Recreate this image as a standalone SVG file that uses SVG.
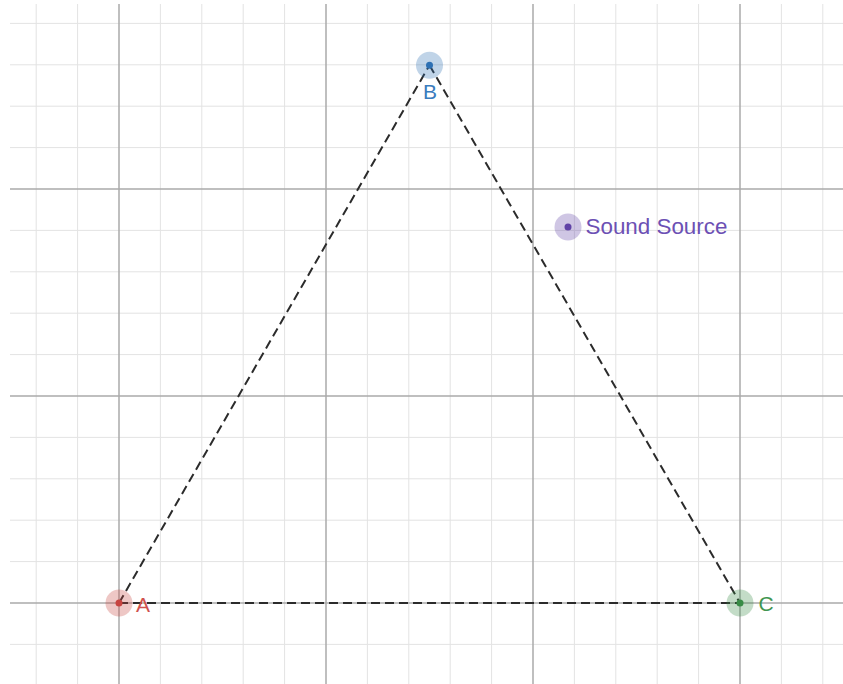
<svg xmlns="http://www.w3.org/2000/svg" width="843" height="684" viewBox="0 0 843 684">
<style>
.minor{stroke:#e3e3e3;stroke-width:1;fill:none}
.major{stroke:#ababab;stroke-width:1.5;fill:none}
.edge{stroke:#2b2b2b;stroke-width:2;stroke-dasharray:9 5;fill:none}
.lbl{font-family:"Liberation Sans",Arial,sans-serif;font-size:21px}
</style>
<rect width="843" height="684" fill="#ffffff"/>
<g id="grid">
<path class="minor" d="M36.2 4V684M77.6 4V684M160.4 4V684M201.8 4V684M243.2 4V684M284.6 4V684M367.4 4V684M408.8 4V684M450.2 4V684M491.6 4V684M574.4 4V684M615.8 4V684M657.2 4V684M698.6 4V684M781.4 4V684M822.8 4V684"/>
<path class="minor" d="M10 23.4H843M10 64.8H843M10 106.2H843M10 147.6H843M10 230.4H843M10 271.8H843M10 313.2H843M10 354.6H843M10 437.4H843M10 478.8H843M10 520.2H843M10 561.6H843M10 644.4H843"/>
<path class="major" d="M119 4V684M326 4V684M533 4V684M740 4V684M10 189H843M10 396H843M10 603H843"/>
</g>
<g id="connectors">
<line class="edge" x1="119" y1="603" x2="429.5" y2="65.2"/>
<line class="edge" x1="429.5" y1="65.2" x2="740" y2="603"/>
<line class="edge" x1="119" y1="603" x2="740" y2="603"/>
</g>
<g id="A">
<circle cx="119" cy="603" r="13.5" fill="#c74440" fill-opacity="0.3"/>
<circle cx="119" cy="603" r="3.5" fill="#c74440"/>
<text class="lbl" x="136" y="611.5" fill="#d0524e">A</text>
</g>
<g id="B">
<circle cx="429.5" cy="65.2" r="13.5" fill="#2d70b3" fill-opacity="0.3"/>
<circle cx="429.5" cy="65.2" r="3.5" fill="#2d70b3"/>
<text class="lbl" x="430" y="98.5" fill="#3a7cbe" text-anchor="middle">B</text>
</g>
<g id="C">
<circle cx="740" cy="603" r="13.5" fill="#388c46" fill-opacity="0.3"/>
<circle cx="740" cy="603" r="3.5" fill="#388c46"/>
<text class="lbl" x="758.5" y="611" fill="#409650">C</text>
</g>
<g id="SoundSource">
<circle cx="568" cy="227" r="13.5" fill="#6042a6" fill-opacity="0.3"/>
<circle cx="568" cy="227" r="3.5" fill="#6042a6"/>
<text class="lbl" x="585.5" y="233.5" fill="#6c50b4" style="font-size:22.4px">Sound Source</text>
</g>
</svg>
